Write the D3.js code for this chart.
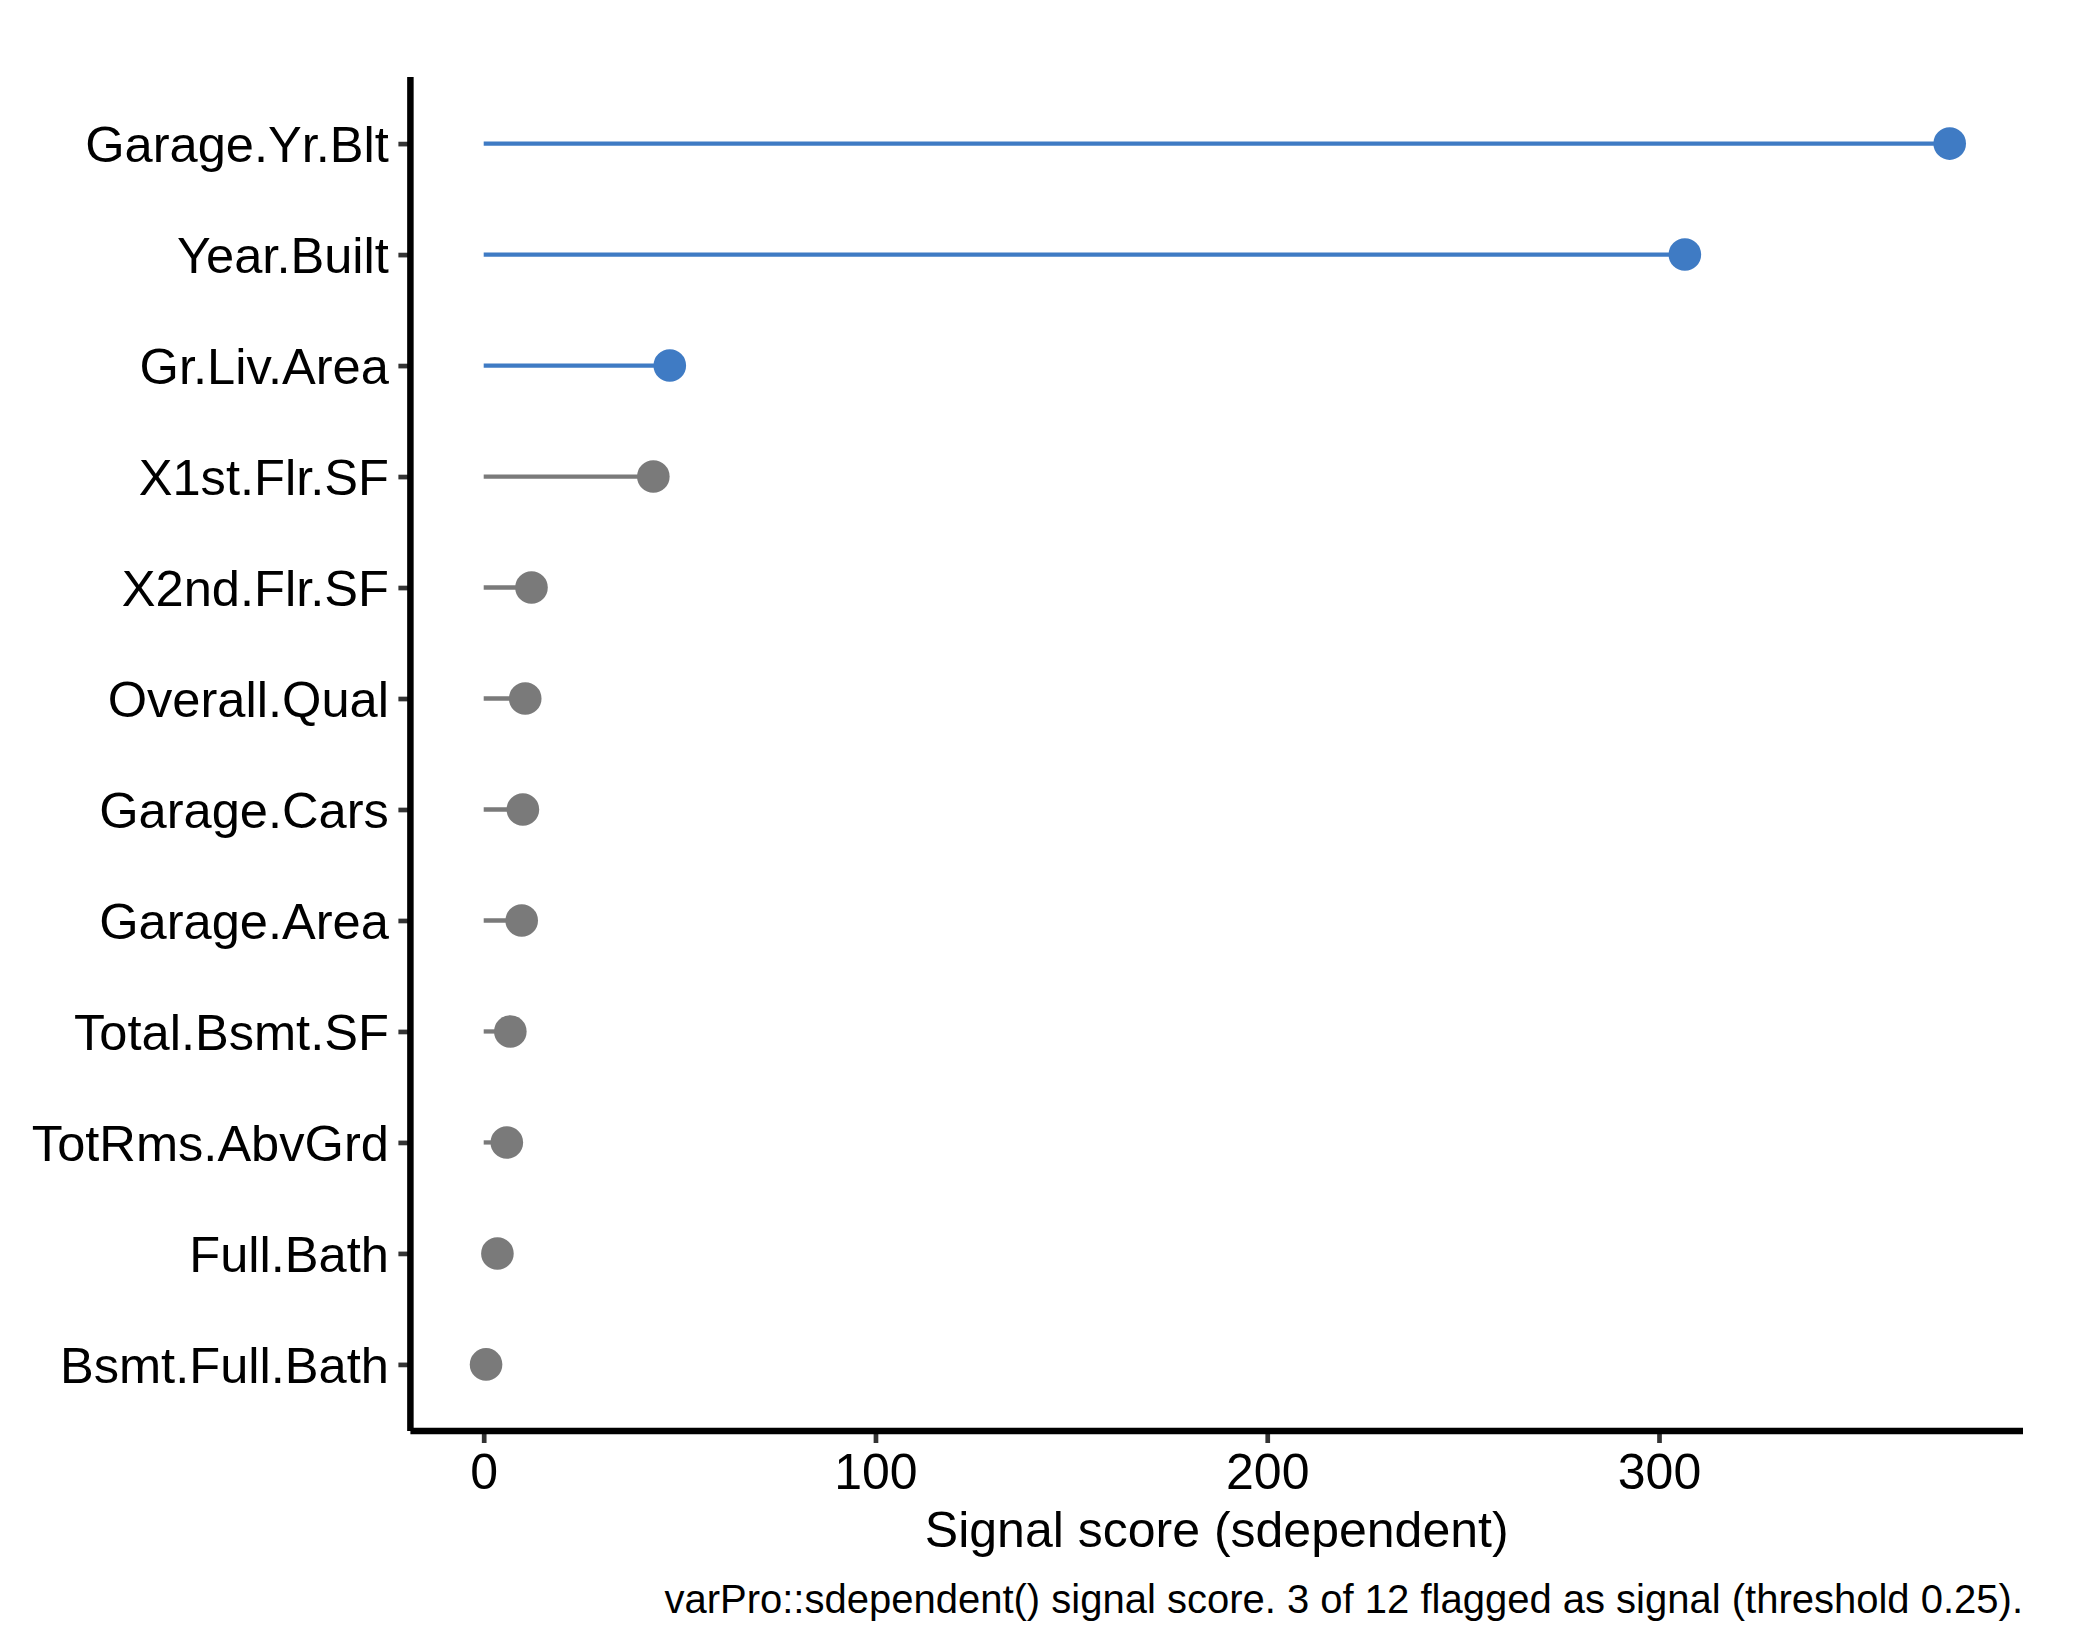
<!DOCTYPE html>
<html>
<head>
<meta charset="utf-8">
<script src="https://cdn.jsdelivr.net/npm/d3@7"></script>
<style>
  html, body { margin: 0; padding: 0; background: #ffffff; }
  svg { display: block; }
  text { font-family: "Liberation Sans", Arial, Helvetica, sans-serif; }
</style>
</head>
<body>
<svg id="chart" width="2100" height="1650"></svg>
<script>
// ---- data ----
const variables = ["Garage.Yr.Blt", "Year.Built", "Gr.Liv.Area", "X1st.Flr.SF", "X2nd.Flr.SF",
  "Overall.Qual", "Garage.Cars", "Garage.Area", "Total.Bsmt.SF", "TotRms.AbvGrd",
  "Full.Bath", "Bsmt.Full.Bath"];
const scores = [374.2, 306.6, 47.5, 43.3, 12.2, 10.6, 10.0, 9.7, 6.8, 5.9, 3.5, 0.6];
const flagged = [true, true, true, false, false, false, false, false, false, false, false, false];
const xTicks = [0, 100, 200, 300];
const xTitle = "Signal score (sdependent)";
const caption = "varPro::sdependent() signal score. 3 of 12 flagged as signal (threshold 0.25).";

const colSignal = "#3F7BC4";
const colNoise = "#7A7A7A";

const rows = variables.map((v, i) => ({ name: v, score: scores[i], signal: flagged[i] }));

const svg = d3.select("#chart");
const panel = { left: 410.4, right: 2023, top: 77, bottom: 1431 };

const maxV = d3.max(scores);
const minV = 0;
const pad = (maxV - minV) * 0.05;
const x = d3.scaleLinear().domain([minV - pad, maxV + pad]).range([panel.left, panel.right]);
const y = d3.scalePoint().domain(variables).range([panel.top, panel.bottom]).padding(0.6);

// stems
svg.append("g").selectAll("line").data(rows).join("line")
  .attr("x1", x(0)).attr("x2", d => x(d.score))
  .attr("y1", d => y(d.name)).attr("y2", d => y(d.name))
  .attr("stroke", d => d.signal ? colSignal : colNoise)
  .attr("stroke-width", 4.3);

// dots
svg.append("g").selectAll("circle").data(rows).join("circle")
  .attr("cx", d => x(d.score)).attr("cy", d => y(d.name))
  .attr("r", 16.3)
  .attr("fill", d => d.signal ? colSignal : colNoise);

// y axis
const yAxis = svg.append("g")
  .attr("transform", `translate(${panel.left},0)`)
  .call(d3.axisLeft(y).tickSize(12).tickPadding(9.5).tickSizeOuter(0));
yAxis.select(".domain").remove();
yAxis.selectAll(".tick line").attr("stroke", "#333333").attr("stroke-width", 4.7);
yAxis.selectAll(".tick text")
  .attr("fill", "#000").attr("font-size", 50.6).attr("dy", "0.36em");

// x axis
const xAxis = svg.append("g")
  .attr("transform", `translate(0,${panel.bottom})`)
  .call(d3.axisBottom(x).tickValues(xTicks).tickFormat(d3.format("d")).tickSize(12).tickPadding(10).tickSizeOuter(0));
xAxis.select(".domain").remove();
xAxis.selectAll(".tick line").attr("stroke", "#333333").attr("stroke-width", 4.7);
xAxis.selectAll(".tick text")
  .attr("fill", "#000").attr("font-size", 50).attr("dy", "0.71em");

// axis lines
svg.append("line")
  .attr("x1", panel.left).attr("x2", panel.left)
  .attr("y1", panel.top).attr("y2", panel.bottom)
  .attr("stroke", "#000").attr("stroke-width", 6.5);
svg.append("line")
  .attr("x1", panel.left).attr("x2", panel.right)
  .attr("y1", panel.bottom).attr("y2", panel.bottom)
  .attr("stroke", "#000").attr("stroke-width", 6.5);

// axis title
svg.append("text")
  .attr("x", (panel.left + panel.right) / 2).attr("y", 1546.5)
  .attr("text-anchor", "middle").attr("font-size", 50).attr("fill", "#000")
  .text(xTitle);

// caption
svg.append("text")
  .attr("x", panel.right).attr("y", 1612.5)
  .attr("text-anchor", "end").attr("font-size", 40).attr("fill", "#000")
  .text(caption);
</script>
</body>
</html>
